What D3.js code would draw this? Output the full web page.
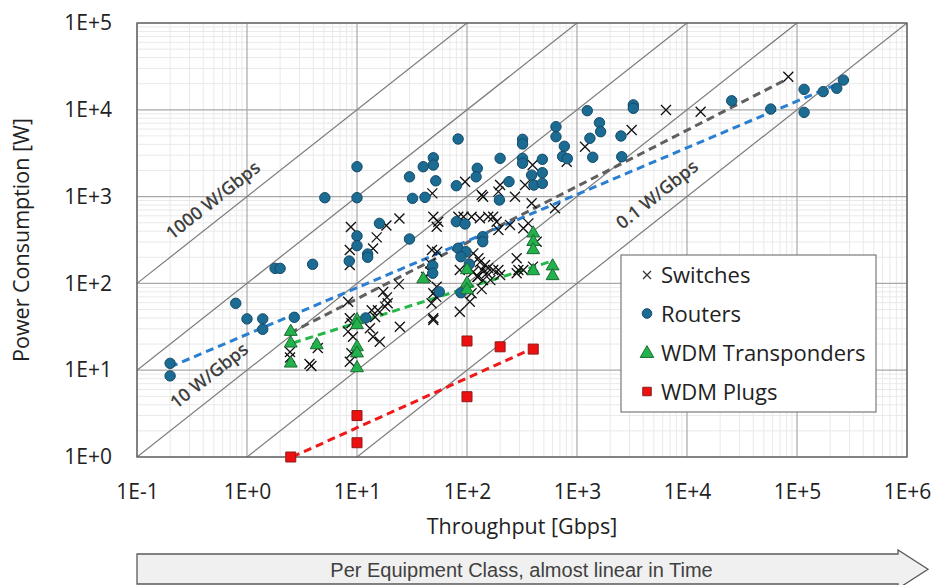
<!DOCTYPE html>
<html><head><meta charset="utf-8">
<script src="https://cdn.jsdelivr.net/npm/d3@7"></script>
<style>
body{margin:0;background:#fff;}
svg{display:block;font-family:"Open Sans",sans-serif;}
</style></head><body>
<svg id="chart" width="934" height="585"></svg>
<script>
// ---------- data ----------
const xTickValues = [0.1, 1, 10, 100, 1000, 1e4, 1e5, 1e6];
const xTickLabels = ["1E-1","1E+0","1E+1","1E+2","1E+3","1E+4","1E+5","1E+6"];
const yTickValues = [1, 10, 100, 1000, 1e4, 1e5];
const yTickLabels = ["1E+0","1E+1","1E+2","1E+3","1E+4","1E+5"];
const efficiencyValues = [1000, 100, 10, 1, 0.1];          // W/Gbps iso-lines
const efficiencyLabelTexts = ["1000 W/Gbps", "10 W/Gbps", "0.1 W/Gbps"];
const seriesNames = ["Switches", "Routers", "WDM Transponders", "WDM Plugs"];

const switches = [
[2.46,16.2],[2.46,14],[4.4,18],[3.7,11.8],[3.85,11.2],
[8.6,243],[8.8,447],[8.6,163],[14,252],[15.1,339],[18.5,465],[24.3,560],
[24,98],[17.3,79.5],[18.7,69],[19,59],[18,54],[13.6,49],[15.5,49],[14.6,41],
[8.3,61.5],[8.6,39.6],[8.9,34.7],[8.3,27.8],[9.2,24.3],[13.1,30.4],[14,24.3],[16.1,21.3],[24.5,31.7],[8.9,15.7],[8.6,12.5],
[49.4,587],[54.8,514],[53,450],[83.4,587],[93,587],[110,587],[131,562],[156,587],[173,587],[186,514],[246,471],[361,492],[193,412],[325,431],[430,302],[283,195],[293,143],[193,143],
[96,1485],[136,1043],[140,998],[200,1361],[193,1140],[273,998],[337,1361],[387,837],[395,2310],[631,733],[806,2520],[1183,3760],[3140,5850],[48.4,1090],
[48,243],[53.5,232],[46.3,170],[46.3,136],[42.5,119],[114,222],[127,195],
[131,176],[146,163],[156,150],[137,143],[152,132],[173,143],[126,119],[140,109],[163,109],
[114,136],[124,119],[86,143],[53,91.6],[49.4,77],[52.5,70],[47.6,59],[49.4,39.6],[49.4,37.9],[86,47.2],[106,61.5],[110,77],[136,86],[200,125],[283,131],[325,143],[398,156],
[6440,9950],[13300,9510],[83400,24000]
];
const routers = [
[0.2,12],[0.2,8.6],[0.79,59],[1.0,39],[1.39,39],[1.39,29.6],[2.69,40.7],[1.8,149],[2.0,149],[3.95,166],[5.1,971],
[10,2210],[10,971],[16,492],[10,352],[10,272],[12.5,218],[12.5,200],[8.5,181],[12,40],
[83,4610],[49.4,2800],[49.4,2310],[40,2210],[30,1690],[52,1520],[80,1335],[124,2120],[121,1690],
[200,2760],[320,4570],[320,4040],[320,2760],[320,2420],[484,2690],[387,1770],[406,1360],[484,1885],[484,1420],[241,1485],[197,914],
[644,6390],[644,4900],[767,3800],[740,2900],[817,2740],
[32,955],[41.5,982],[30,325],[80,514],[96,484],[139,345],[139,302],[83,254],[98,232],[88,203],[105,167],[48.8,160],[48.8,131],[56,80],[88,78],
[1240,9770],[3250,11400],[3250,10400],[1600,7100],[1640,5590],[1310,4700],[1390,2840],[2510,4990],[2550,2880],
[25500,12700],[57700,10200],[116000,17200],[116000,9350],[173000,16200],[230000,17700],[264000,22000]
];
const transponders = [
[2.5,27.8],[2.5,20.4],[2.5,12],[4.3,19.5],[10,37.9],[10,33.2],[10,18.5],[10,15.7],[10,10.6],
[40,112],[100,143],[100,100],[100,84],[400,378],[400,302],[400,243],[400,139],[600,158],[600,122]
];
const plugs = [[2.5,1],[10,3.0],[10,1.46],[100,4.95],[100,21.7],[200,18.6],[400,17.5]];

const switchesTrend = [[2.46,26.8],[78000,22000]];
const routersTrend = [[0.2,10.9],[246000,20400]];
const transpondersTrend = [[2.62,20.6],[570,178]];
const plugsTrend = [[2.57,1],[400,17.9]];

// ---------- chart ----------
const svg = d3.select("#chart");
const L = 137, R = 907, T = 23, B = 457;
const x = d3.scaleLog().domain([0.1, 1e6]).range([L, R]);
const y = d3.scaleLog().domain([1, 1e5]).range([B, T]);

svg.append("defs").append("clipPath").attr("id","plotclip")
  .append("rect").attr("x",L).attr("y",T).attr("width",R-L).attr("height",B-T);

// minor grid
const minorX = [], minorY = [];
for (let e = -1; e < 6; e++) for (let k = 2; k <= 9; k++) minorX.push(k * Math.pow(10, e));
for (let e = 0; e < 5; e++) for (let k = 2; k <= 9; k++) minorY.push(k * Math.pow(10, e));
const grid = svg.append("g");
grid.selectAll(".mx").data(minorX).join("line")
  .attr("x1", d => x(d)).attr("x2", d => x(d)).attr("y1", T).attr("y2", B)
  .attr("stroke", "#e9e9e9").attr("stroke-width", 1);
grid.selectAll(".my").data(minorY).join("line")
  .attr("y1", d => y(d)).attr("y2", d => y(d)).attr("x1", L).attr("x2", R)
  .attr("stroke", "#e9e9e9").attr("stroke-width", 1);
// major grid
grid.selectAll(".Mx").data(xTickValues).join("line")
  .attr("x1", d => x(d)).attr("x2", d => x(d)).attr("y1", T).attr("y2", B)
  .attr("stroke", "#a8a8a8").attr("stroke-width", 1.2);
grid.selectAll(".My").data(yTickValues).join("line")
  .attr("y1", d => y(d)).attr("y2", d => y(d)).attr("x1", L).attr("x2", R)
  .attr("stroke", "#a8a8a8").attr("stroke-width", 1.2);

// iso-efficiency lines
const iso = svg.append("g").attr("clip-path", "url(#plotclip)");
iso.selectAll("line").data(efficiencyValues).join("line")
  .attr("x1", x(0.1)).attr("y1", d => y(d * 0.1))
  .attr("x2", x(1e6)).attr("y2", d => y(d * 1e6))
  .attr("stroke", "#7a7a7a").attr("stroke-width", 1.2);

// labels on iso lines
const angle = Math.atan2(y(10) - y(1), x(10) - x(1)) * 180 / Math.PI;
const labelCfg = [
  {w: 1000, t: 0.62, text: efficiencyLabelTexts[0], off: -12},
  {w: 10, t: 0.58, text: efficiencyLabelTexts[1], off: -13},
  {w: 0.1, t: 6940, text: efficiencyLabelTexts[2], off: -14}
];
svg.append("g").selectAll("text").data(labelCfg).join("text")
  .attr("transform", d => `translate(${x(d.t)},${y(d.w * d.t)}) rotate(${angle})`)
  .attr("y", d => d.off)
  .attr("text-anchor", "middle")
  .attr("font-size", 18).attr("font-weight", 600).attr("fill", "#404040")
  .text(d => d.text);

// border
svg.append("rect").attr("x", L).attr("y", T).attr("width", R - L).attr("height", B - T)
  .attr("fill", "none").attr("stroke", "#5a5a5a").attr("stroke-width", 1.3);

// trend lines
const line = d3.line().x(d => x(d[0])).y(d => y(d[1]));
const trends = [
  {data: switchesTrend, color: "#5f5f5f"},
  {data: routersTrend, color: "#2a7fd0"},
  {data: transpondersTrend, color: "#27b64a"},
  {data: plugsTrend, color: "#f01818"}
];
svg.append("g").selectAll("path").data(trends).join("path")
  .attr("d", d => line(d.data)).attr("fill", "none")
  .attr("stroke", d => d.color).attr("stroke-width", 3).attr("stroke-dasharray", "8,5");

// markers
const xMark = "M-5,-5L5,5M-5,5L5,-5";
const marks = svg.append("g");
marks.append("g").selectAll("path").data(switches).join("path")
  .attr("transform", d => `translate(${x(d[0])},${y(d[1])})`)
  .attr("d", xMark).attr("stroke", "#111").attr("stroke-width", 1.3).attr("fill", "none");
marks.append("g").selectAll("circle").data(routers).join("circle")
  .attr("cx", d => x(d[0])).attr("cy", d => y(d[1])).attr("r", 5.2)
  .attr("fill", "#1c6b93").attr("stroke", "#134a68").attr("stroke-width", 1);
const tri = d3.symbol().type(d3.symbolTriangle).size(72)();
marks.append("g").selectAll("path").data(transponders).join("path")
  .attr("transform", d => `translate(${x(d[0])},${y(d[1])})`)
  .attr("d", tri).attr("fill", "#22b24c").attr("stroke", "#1d6a33").attr("stroke-width", 1);
const sq = d3.symbol().type(d3.symbolSquare).size(100)();
marks.append("g").selectAll("path").data(plugs).join("path")
  .attr("transform", d => `translate(${x(d[0])},${y(d[1])})`)
  .attr("d", sq).attr("fill", "#ee1010").attr("stroke", "#8e1a1a").attr("stroke-width", 1);

// axes tick labels
const xAxis = d3.axisBottom(x).tickValues(xTickValues).tickFormat((d, i) => xTickLabels[i]).tickSize(0).tickPadding(0);
const gx = svg.append("g").attr("transform", `translate(0,${B + 26})`).call(xAxis);
gx.select(".domain").remove();
gx.selectAll("text").attr("font-size", 21).attr("fill", "#222").attr("font-family", "Open Sans").attr("dy", "0.71em").attr("y", 1);
const yAxis = d3.axisLeft(y).tickValues(yTickValues).tickFormat((d, i) => yTickLabels[i]).tickSize(0).tickPadding(0);
const gy = svg.append("g").attr("transform", `translate(112,0)`).call(yAxis);
gy.select(".domain").remove();
gy.selectAll("text").attr("font-size", 21).attr("fill", "#222").attr("font-family", "Open Sans");

// axis titles
svg.append("text").attr("x", (L + R) / 2).attr("y", 534).attr("text-anchor", "middle")
  .attr("font-size", 21.5).attr("fill", "#222").text("Throughput [Gbps]");
svg.append("text").attr("transform", `translate(29,${(T + B) / 2}) rotate(-90)`)
  .attr("text-anchor", "middle").attr("font-size", 21.5).attr("fill", "#222").text("Power Consumption [W]");

// legend
const lg = svg.append("g");
lg.append("rect").attr("x", 621).attr("y", 255).attr("width", 255).attr("height", 157)
  .attr("fill", "#fff").attr("stroke", "#7a7a7a").attr("stroke-width", 1.2);
const rowsY = [275, 313.5, 352.5, 391.5];
lg.selectAll("text").data(seriesNames).join("text")
  .attr("x", 661).attr("y", (d, i) => rowsY[i] + 8)
  .attr("font-size", 22).attr("fill", "#222").text(d => d);
lg.append("path").attr("transform", `translate(647,${rowsY[0]})`).attr("d", "M-4,-4L4,4M-4,4L4,-4")
  .attr("stroke", "#333").attr("stroke-width", 1.2);
lg.append("circle").attr("cx", 647).attr("cy", rowsY[1]).attr("r", 4.8)
  .attr("fill", "#1c6b93").attr("stroke", "#134a68");
lg.append("path").attr("transform", `translate(647,${rowsY[2] + 1})`).attr("d", d3.symbol().type(d3.symbolTriangle).size(80)())
  .attr("fill", "#22b24c").attr("stroke", "#1d6a33");
lg.append("path").attr("transform", `translate(647,${rowsY[3]})`).attr("d", d3.symbol().type(d3.symbolSquare).size(72)())
  .attr("fill", "#ee1010").attr("stroke", "#8e1a1a");

// bottom arrow
const ag = svg.append("g");
ag.append("path")
  .attr("d", `M${L},554 L898,554 L898,550 L928,569.3 L898,588.6 L898,584 L${L},584 Z`)
  .attr("fill", "#f0f0f0").attr("stroke", "#5a5a5a").attr("stroke-width", 1.3);
ag.append("text").attr("x", 521.5).attr("y", 576.5).attr("text-anchor", "middle")
  .attr("font-family", "'Liberation Sans', Arial, sans-serif").attr("font-size", 20).attr("fill", "#404040")
  .text("Per Equipment Class, almost linear in Time");
</script>
</body></html>
